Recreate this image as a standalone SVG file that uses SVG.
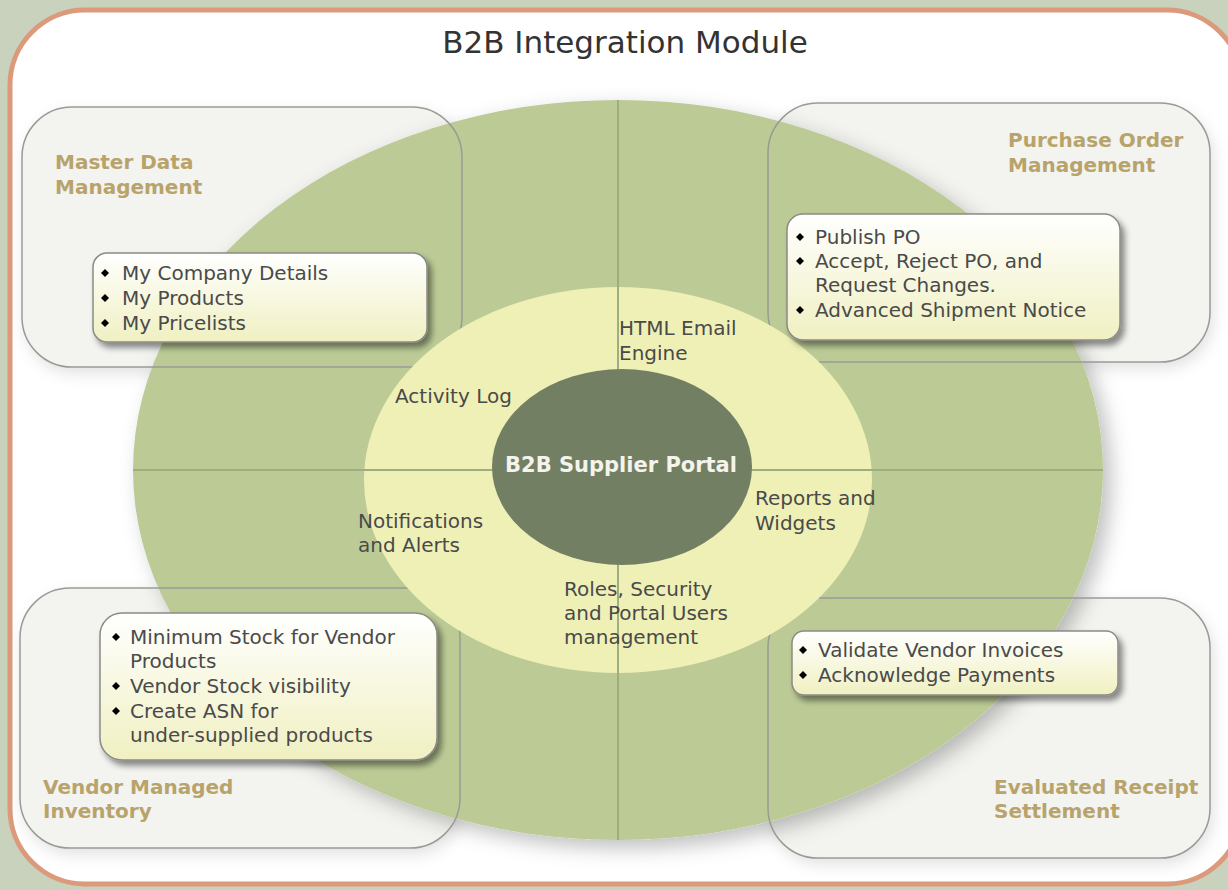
<svg xmlns="http://www.w3.org/2000/svg" width="1228" height="890" viewBox="0 0 1228 890">
<defs>
<style>
.t{font-family:"DejaVu Sans","Verdana",sans-serif;fill:#4a4a4a;font-size:20px}
.h{font-family:"DejaVu Sans","Verdana",sans-serif;fill:#b8a36b;font-size:20px;font-weight:bold}
.title{font-family:"DejaVu Sans","Verdana",sans-serif;fill:#333;font-size:31px}
.core{font-family:"DejaVu Sans","Verdana",sans-serif;fill:#f4f4ec;font-size:21px;font-weight:bold}
.qfill{fill:#f3f3f0;stroke:none}
.qline{fill:none;stroke:#9a9a96;stroke-width:1.5}
.item{fill:url(#ig);stroke:#8a8a86;stroke-width:1.5}
.axis{stroke:#9fae80;stroke-width:2}
</style>
<linearGradient id="ig" x1="0" y1="0" x2="0" y2="1">
<stop offset="0" stop-color="#ffffff"/>
<stop offset="1" stop-color="#f0f0c2"/>
</linearGradient>
<filter id="sh" x="-10%" y="-10%" width="130%" height="140%">
<feDropShadow dx="4" dy="5" stdDeviation="3" flood-color="#000" flood-opacity="0.45"/>
</filter>
<filter id="esh" x="-10%" y="-10%" width="130%" height="130%">
<feDropShadow dx="8" dy="8" stdDeviation="10" flood-color="#000" flood-opacity="0.25"/>
</filter>
<filter id="qsh" x="-10%" y="-10%" width="130%" height="130%">
<feDropShadow dx="3" dy="6" stdDeviation="8" flood-color="#000" flood-opacity="0.12"/>
</filter>
<path id="b" d="M0,-4 L4,0 L0,4 L-4,0 Z" fill="#000"/>
</defs>

<rect x="0" y="0" width="1228" height="890" fill="#c9d2bc"/>
<rect id="frame" x="10" y="10" width="1232" height="874" rx="75" fill="#ffffff" stroke="#dc9a7c" stroke-width="5"/>

<g id="quadrant-fills" filter="url(#qsh)">
<rect class="qfill" x="22" y="107" width="440" height="260" rx="50"/>
<rect class="qfill" x="768" y="103" width="442" height="259" rx="50"/>
<rect class="qfill" x="20" y="588" width="440" height="260" rx="50"/>
<rect class="qfill" x="768" y="598" width="442" height="260" rx="50"/>
</g>

<ellipse id="outer-ring" cx="618" cy="470" rx="485" ry="370" fill="#bccb96" filter="url(#esh)"/>

<g id="quadrant-outlines">
<rect class="qline" x="22" y="107" width="440" height="260" rx="50"/>
<rect class="qline" x="768" y="103" width="442" height="259" rx="50"/>
<rect class="qline" x="20" y="588" width="440" height="260" rx="50"/>
<rect class="qline" x="768" y="598" width="442" height="260" rx="50"/>
</g>

<ellipse id="services-ring" cx="618" cy="480" rx="254" ry="193" fill="#eff0b6"/>

<g id="axes">
<line class="axis" x1="618" y1="100" x2="618" y2="840"/>
<line class="axis" x1="133" y1="470" x2="1103" y2="470"/>
</g>

<g id="core">
<ellipse cx="622" cy="467" rx="130" ry="98" fill="#737f63"/>
<text class="core" x="621" y="472" text-anchor="middle">B2B Supplier Portal</text>
</g>

<text id="title" class="title" x="625" y="53" text-anchor="middle">B2B Integration Module</text>

<g id="services">
<text class="t" x="619" y="335">HTML Email</text>
<text class="t" x="619" y="360">Engine</text>
<text class="t" x="395" y="403">Activity Log</text>
<text class="t" x="755" y="505">Reports and</text>
<text class="t" x="755" y="530">Widgets</text>
<text class="t" x="358" y="528">Notifications</text>
<text class="t" x="358" y="552">and Alerts</text>
<text class="t" x="564" y="596">Roles, Security</text>
<text class="t" x="564" y="620">and Portal Users</text>
<text class="t" x="564" y="644">management</text>
</g>

<g id="master-data">
<text class="h" x="55" y="169">Master Data</text>
<text class="h" x="55" y="194">Management</text>
<rect class="item" x="93" y="253" width="334" height="89" rx="14" filter="url(#sh)"/>
<use href="#b" x="105" y="273"/>
<use href="#b" x="105" y="298"/>
<use href="#b" x="105" y="323"/>
<text class="t" x="122" y="280">My Company Details</text>
<text class="t" x="122" y="305">My Products</text>
<text class="t" x="122" y="330">My Pricelists</text>
</g>

<g id="purchase-order">
<text class="h" x="1008" y="147">Purchase Order</text>
<text class="h" x="1008" y="172">Management</text>
<rect class="item" x="787" y="214" width="333" height="126" rx="16" filter="url(#sh)"/>
<use href="#b" x="800" y="237"/>
<use href="#b" x="800" y="261"/>
<use href="#b" x="800" y="310"/>
<text class="t" x="815" y="244">Publish PO</text>
<text class="t" x="815" y="268">Accept, Reject PO, and</text>
<text class="t" x="815" y="292">Request Changes.</text>
<text class="t" x="815" y="317">Advanced Shipment Notice</text>
</g>

<g id="vendor-inventory">
<rect class="item" x="100" y="613" width="337" height="147" rx="22" filter="url(#sh)"/>
<use href="#b" x="116" y="637"/>
<use href="#b" x="116" y="686"/>
<use href="#b" x="116" y="711"/>
<text class="t" x="130" y="644">Minimum Stock for Vendor</text>
<text class="t" x="130" y="668">Products</text>
<text class="t" x="130" y="693">Vendor Stock visibility</text>
<text class="t" x="130" y="718">Create ASN for</text>
<text class="t" x="130" y="742">under-supplied products</text>
<text class="h" x="43" y="794">Vendor Managed</text>
<text class="h" x="43" y="818">Inventory</text>
</g>

<g id="receipt-settlement">
<rect class="item" x="792" y="631" width="326" height="64" rx="12" filter="url(#sh)"/>
<use href="#b" x="803" y="650"/>
<use href="#b" x="803" y="675"/>
<text class="t" x="818" y="657">Validate Vendor Invoices</text>
<text class="t" x="818" y="682">Acknowledge Payments</text>
<text class="h" x="994" y="794">Evaluated Receipt</text>
<text class="h" x="994" y="818">Settlement</text>
</g>

<g id="connectors"/>
</svg>
